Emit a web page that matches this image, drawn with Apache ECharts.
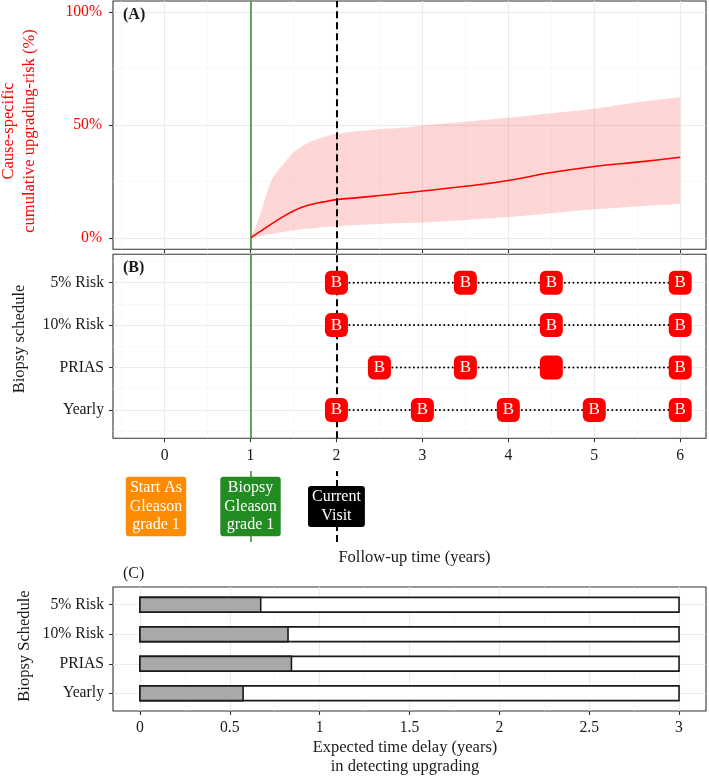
<!DOCTYPE html>
<html><head><meta charset="utf-8">
<script src="https://cdn.jsdelivr.net/npm/echarts@6/dist/echarts.min.js"></script>
<style>html,body{margin:0;padding:0;background:#fff}#c{width:709px;height:778px}</style>
</head><body><div id="c"></div>
<script>
// ---------- data ----------
const riskTime  = [1, 1.1, 1.25, 1.4, 1.5, 1.65, 1.85, 2, 2.25, 2.5, 2.75, 3, 3.5, 4, 4.5, 5, 5.5, 6];
const riskMean  = [0, 2.6, 6.4, 9.9, 12.0, 14.3, 16.0, 17.0, 17.9, 18.8, 19.8, 20.8, 22.9, 25.5, 29.0, 31.7, 33.6, 35.8];
const riskUpper = [0, 9, 26, 33.6, 38, 41.8, 44.7, 46.2, 47.3, 48.2, 48.8, 49.9, 51.5, 53.3, 55.3, 57.3, 60.2, 62.4];
const riskLower = [0, 0.8, 1.8, 2.8, 3.4, 4.1, 4.8, 5.2, 5.8, 6.2, 6.6, 6.9, 8, 9.3, 11, 12.7, 14, 15.2];
const riskTicks = [0, 50, 100];
const followTicks = [0, 1, 2, 3, 4, 5, 6];
const scheduleNames = ['Yearly', 'PRIAS', '10% Risk', '5% Risk'];
const yearlyTimes = [2, 3, 4, 5, 6];
const priasTimes  = [2.5, 3.5, 4.5, 6];
const risk10Times = [2, 4.5, 6];
const risk5Times  = [2, 3.5, 4.5, 6];
const yearlyLabels = ['B', 'B', 'B', 'B', 'B'];
const priasLabels  = ['B', 'B', '', 'B'];
const risk10Labels = ['B', 'B', 'B'];
const risk5Labels  = ['B', 'B', 'B', 'B'];
const biopsyTime = 1, currentTime = 2;
const eventLabels = ['Start As\nGleason\ngrade 1', 'Biopsy\nGleason\ngrade 1', 'Current\nVisit'];
const eventTimes  = [-0.1, 1, 2];
const eventColors = ['#FF8C00', '#228B22', '#000000'];
const delaySchedules = ['Yearly', 'PRIAS', '10% Risk', '5% Risk'];
const delayValues = [0.574, 0.843, 0.824, 0.672];
const delayMax    = [3, 3, 3, 3];
const delayTicks  = [0, 0.5, 1, 1.5, 2, 2.5, 3];

// ---------- style ----------
const FONT = "'Liberation Serif','Times New Roman',serif";
const MAJ = '#EBEBEB', MIN = '#F5F5F5', FRAME = '#333333', TXT = '#1a1a1a';
const GREEN = '#2E8B2E';

function gridDef(top, height, show) {
  return { left: 113, width: 593, top: top, height: height, show: show,
    borderColor: FRAME, borderWidth: 1.1, backgroundColor: '#fff', containLabel: false, outerBoundsMode: 'none' };
}
function majorAxis(dim, gi, min, max, ticks, labelOpt) {
  return {
    type: 'value', gridIndex: gi, min: min, max: max,
    position: dim === 'x' ? 'bottom' : 'left',
    axisLine: { show: false, onZero: false },
    axisTick: { show: true, customValues: ticks, length: 4, lineStyle: { color: FRAME, width: 1.1 } },
    axisLabel: Object.assign({ show: !!labelOpt, customValues: ticks, fontFamily: FONT, fontSize: 15.7, color: TXT }, labelOpt || {}),
    splitLine: { show: true, lineStyle: { color: MAJ, width: 1.1 } }
  };
}
function minorAxis(dim, gi, min, max, vals) {
  return {
    type: 'value', gridIndex: gi, min: min, max: max,
    position: dim === 'x' ? 'bottom' : 'left',
    axisLine: { show: false, onZero: false },
    axisTick: { show: false, customValues: vals },
    axisLabel: { show: false },
    splitLine: { show: true, lineStyle: { color: MIN, width: 0.6 } }
  };
}
const xHalves = [-0.5, 0.5, 1.5, 2.5, 3.5, 4.5, 5.5];
const yQuarter = [25, 75];
const rowHalves = [0.5, 1.5, 2.5, 3.5, 4.5];
const cQuarter = [0.25, 0.75, 1.25, 1.75, 2.25, 2.75];

const XMIN = -0.6, XMAX = 6.3;

const xAxis = [
  majorAxis('x', 0, XMIN, XMAX, followTicks, null),
  minorAxis('x', 0, XMIN, XMAX, xHalves),
  majorAxis('x', 1, XMIN, XMAX, followTicks, { margin: 10 }),
  minorAxis('x', 1, XMIN, XMAX, xHalves),
  { type: 'value', gridIndex: 2, min: XMIN, max: XMAX, show: false },
  majorAxis('x', 3, -0.15, 3.15, delayTicks, { margin: 9 }),
  minorAxis('x', 3, -0.15, 3.15, cQuarter)
];
const yAxis = [
  majorAxis('y', 0, -5, 105, riskTicks, { color: '#FF0000', margin: 11, formatter: v => v + '%' }),
  minorAxis('y', 0, -5, 105, yQuarter),
  majorAxis('y', 1, 0.33, 4.67, [1, 2, 3, 4], { margin: 9, formatter: v => scheduleNames[Math.round(v) - 1] }),
  minorAxis('y', 1, 0.33, 4.67, rowHalves),
  { type: 'value', gridIndex: 2, min: 0, max: 1, show: false },
  majorAxis('y', 3, 0.4, 4.6, [1, 2, 3, 4], { margin: 9, formatter: v => delaySchedules[Math.round(v) - 1] }),
  { type: 'value', gridIndex: 3, min: 0.4, max: 4.6, show: false }
];

function vLines() {
  return {
    symbol: ['none', 'none'], silent: true, animation: false, label: { show: false },
    data: [
      { xAxis: biopsyTime, lineStyle: { color: GREEN, width: 1.5, type: 'solid' } },
      { xAxis: currentTime, lineStyle: { color: '#000', width: 2, type: [7, 4] } }
    ]
  };
}

const series = [];
// Panel A ribbon (polygon through the axes' scales; end points doubled to keep square ends)
series.push({
  type: 'custom', xAxisIndex: 0, yAxisIndex: 0, silent: true, z: 2,
  data: [[riskTime[0], riskLower[0]]],
  renderItem: function (params, api) {
    const up = riskTime.map((t, i) => api.coord([t, riskUpper[i]]));
    const lo = riskTime.map((t, i) => api.coord([t, riskLower[i]])).reverse();
    const pts = [up[0]].concat(up, [up[up.length - 1], lo[0]], lo, [lo[lo.length - 1]]);
    return { type: 'polygon', shape: { points: pts, smooth: 0.3 },
      style: { fill: 'rgba(255,0,0,0.16)' } };
  }
});
series.push({
  type: 'line', xAxisIndex: 0, yAxisIndex: 0, symbol: 'none', smooth: 0.5, silent: true,
  lineStyle: { color: '#FF0000', width: 1.6 }, data: riskTime.map((t, i) => [t, riskMean[i]]),
  markLine: vLines(), z: 3
});

// Panel B
const rows = [
  { times: yearlyTimes, labels: yearlyLabels, row: 1 },
  { times: priasTimes, labels: priasLabels, row: 2 },
  { times: risk10Times, labels: risk10Labels, row: 3 },
  { times: risk5Times, labels: risk5Labels, row: 4 }
];
rows.forEach((r, k) => {
  series.push({
    type: 'line', xAxisIndex: 2, yAxisIndex: 2, symbol: 'none', silent: true, z: 2,
    lineStyle: { color: '#000', width: 2, type: [0.01, 4.3], cap: 'round' },
    data: [[Math.min(...r.times), r.row], [Math.max(...r.times), r.row]],
    markLine: k === 0 ? vLines() : undefined
  });
});
const markerData = [];
rows.forEach(r => r.times.forEach((t, i) => markerData.push({ value: [t, r.row], name: r.labels[i] })));
series.push({
  type: 'scatter', xAxisIndex: 2, yAxisIndex: 2, symbol: 'roundRect', symbolSize: [23, 24], z: 5, silent: true,
  itemStyle: { color: '#FF0000', opacity: 1 },
  label: { show: true, position: 'inside', formatter: p => p.name, color: '#fff', fontFamily: FONT, fontSize: 17 },
  data: markerData
});

// Annotation strip
series.push({
  type: 'line', xAxisIndex: 4, yAxisIndex: 4, data: [], z: 1, markLine: vLines()
});
series.push({
  type: 'scatter', xAxisIndex: 4, yAxisIndex: 4, symbol: 'rect', symbolSize: 1, z: 6, silent: true,
  itemStyle: { color: 'rgba(0,0,0,0)', opacity: 1 },
  label: { show: true, position: 'inside', formatter: p => p.name, color: '#fff', fontFamily: FONT, opacity: 1,
    fontSize: 16, lineHeight: 18.5, padding: [2, 4], borderRadius: 3 },
  data: eventTimes.map((t, i) => ({ value: [t, 0.5], name: eventLabels[i], label: { backgroundColor: eventColors[i] } }))
});

// Panel C
function barRender(fill) {
  return function (params, api) {
    const v = api.value(0), r = api.value(1);
    const s = api.coord([0, r]), e = api.coord([v, r]);
    const h = api.size([0, 0.5])[1];
    return { type: 'rect', shape: { x: s[0], y: s[1] - h / 2, width: e[0] - s[0], height: h },
      style: { fill: fill, stroke: '#1a1a1a', lineWidth: 1.6 } };
  };
}
series.push({ type: 'custom', xAxisIndex: 5, yAxisIndex: 5, renderItem: barRender('#ffffff'), silent: true, z: 3,
  encode: { x: 0, y: 1 }, data: delayMax.map((v, i) => [v, i + 1]) });
series.push({ type: 'custom', xAxisIndex: 5, yAxisIndex: 5, renderItem: barRender('#A9A9A9'), silent: true, z: 4,
  encode: { x: 0, y: 1 }, data: delayValues.map((v, i) => [v, i + 1]) });

function txt(x, y, text, extra, rot) {
  const o = { type: 'text', x: x, y: y, silent: true, z: 100,
    style: Object.assign({ text: text, fill: TXT, font: '16.5px ' + FONT, align: 'center', verticalAlign: 'middle' }, extra || {}) };
  if (rot) o.rotation = rot;
  return o;
}
const graphic = [
  txt(123, 15, '(A)', { font: 'bold 16px ' + FONT, align: 'left' }),
  txt(123, 268, '(B)', { font: 'bold 16px ' + FONT, align: 'left' }),
  txt(123, 574, '(C)', { font: '16px ' + FONT, align: 'left' }),
  txt(19.5, 131, 'Cause-specific\ncumulative upgrading-risk (%)', { fill: '#FF0000', lineHeight: 21 }, Math.PI / 2),
  txt(20, 339, 'Biopsy schedule', {}, Math.PI / 2),
  txt(25, 646, 'Biopsy Schedule', {}, Math.PI / 2),
  txt(414.5, 558, 'Follow-up time (years)', {}),
  txt(405, 757.5, 'Expected time delay (years)\nin detecting upgrading', { lineHeight: 19 })
];

const chart = echarts.init(document.getElementById('c'), null, { renderer: 'canvas' });
chart.setOption({
  animation: false,
  backgroundColor: '#fff',
  grid: [gridDef(1, 248.3, true), gridDef(254.3, 184, true), gridDef(471, 71, false), gridDef(587, 124, true)],
  xAxis: xAxis, yAxis: yAxis, series: series, graphic: graphic
});
</script></body></html>
